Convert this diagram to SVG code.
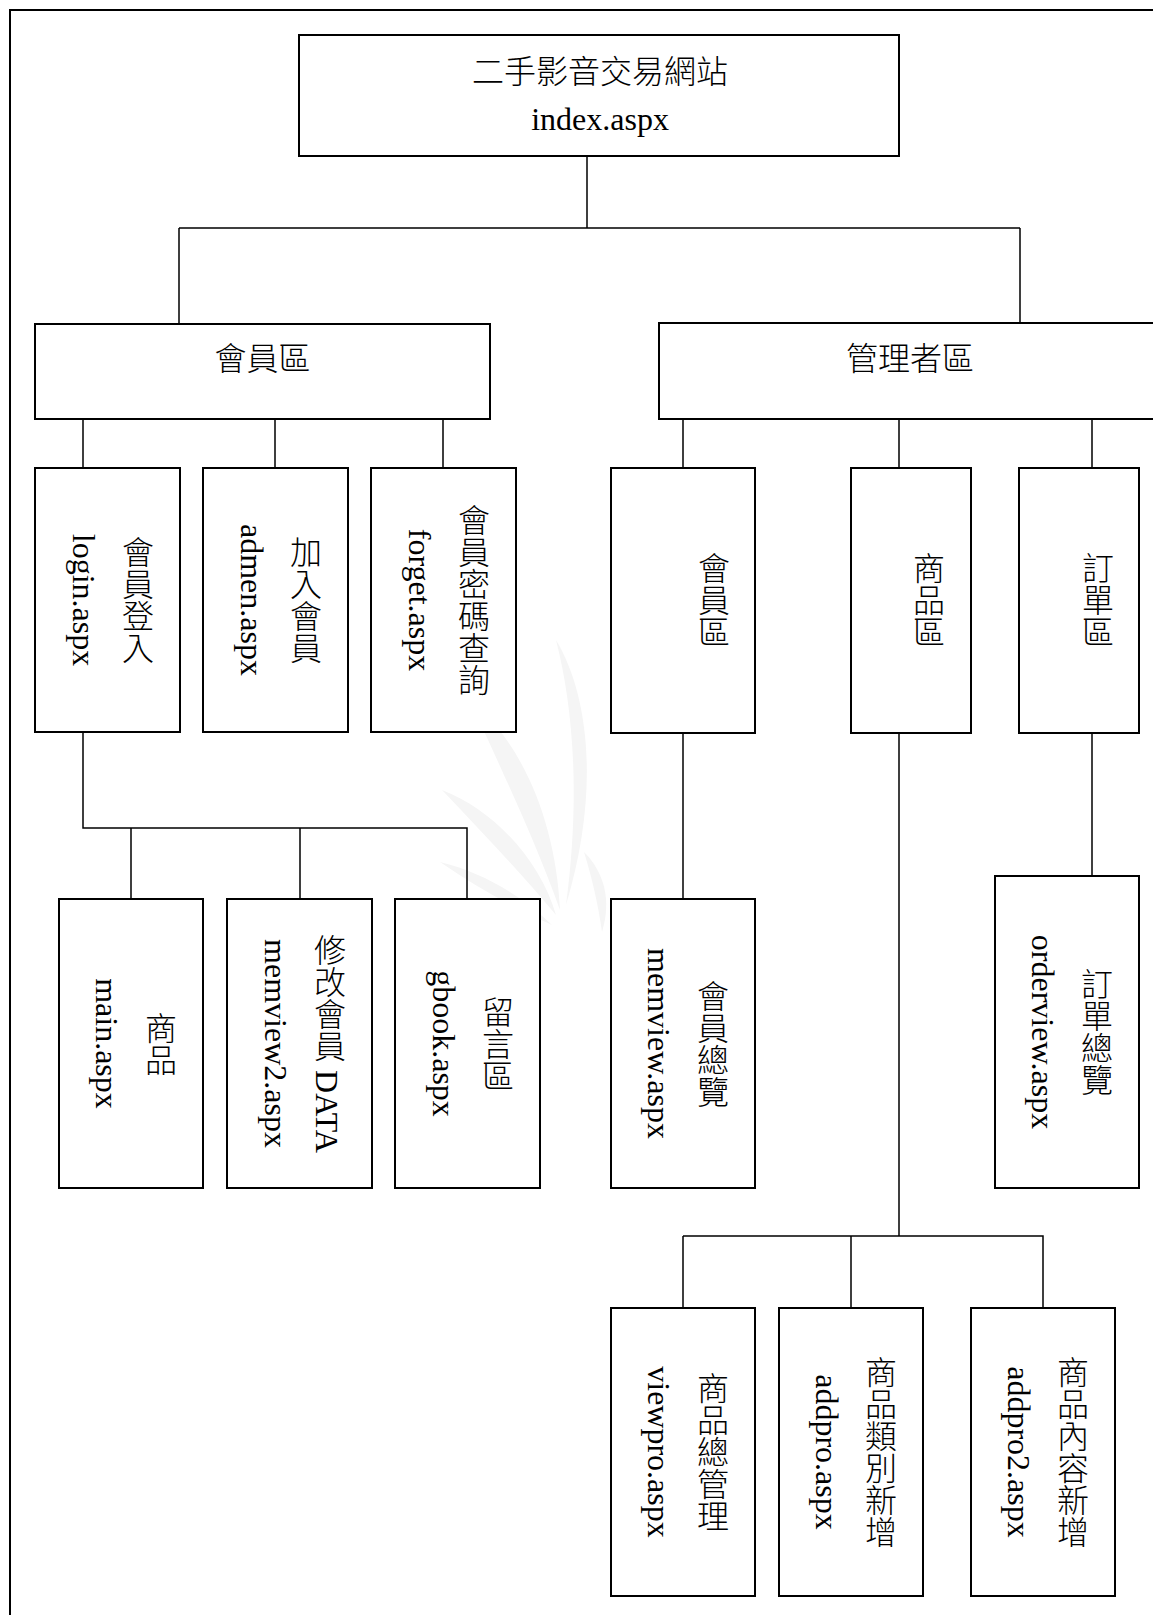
<svg xmlns="http://www.w3.org/2000/svg" width="1153" height="1615" viewBox="0 0 1153 1615">
<style>
.box{fill:#fff;stroke:#000;stroke-width:2}
.frame{fill:none;stroke:#000;stroke-width:2}
.con{fill:none;stroke:#000;stroke-width:1.5}
.wm{fill:#f5f5f5;stroke:none}
text{font-family:"Liberation Serif","Noto Sans CJK TC",serif;font-size:32px;font-weight:300;fill:#000}
.h{text-anchor:middle}
.v{writing-mode:vertical-rl;text-anchor:middle}
.r{text-anchor:middle}
</style>
<rect x="0" y="0" width="1153" height="1615" fill="#fff"/>
<g id="watermark">
<path class="wm" d="M556 640C592 700 598 800 566 905C580 800 574 710 556 640Z"/>
<path class="wm" d="M470 700C522 742 556 822 560 910C532 832 502 772 470 700Z"/>
<path class="wm" d="M442 790C494 810 540 860 556 915C520 872 482 832 442 790Z"/>
<path class="wm" d="M440 862C482 872 522 896 552 925C512 907 476 887 440 862Z"/>
<path class="wm" d="M584 852C604 872 612 900 602 932C598 904 592 878 584 852Z"/>
</g>
<rect class="frame" x="10" y="10" width="1170" height="1630"/>
<g id="connectors">
<path class="con" d="M587 156V228M179 228H1020M179 228V323M1020 228V323"/>
<path class="con" d="M83 419V468M275 419V468M443 419V468"/>
<path class="con" d="M683 419V468M899 419V468M1092 419V468"/>
<path class="con" d="M83 732V828H467V899M131 828V899M300 828V899"/>
<path class="con" d="M683 733V899"/>
<path class="con" d="M1092 733V876"/>
<path class="con" d="M899 733V1236M683 1236H1043V1308M683 1236V1308M851 1236V1308"/>
</g>
<g id="index">
<rect class="box" x="299" y="35" width="600" height="121"/>
<text class="h" x="600" y="83">二手影音交易網站</text>
<text class="h" x="600" y="130">index.aspx</text>
</g>
<g id="member">
<rect class="box" x="35" y="324" width="455" height="95"/>
<text class="h" x="262.5" y="370">會員區</text>
</g>
<g id="admin">
<rect class="box" x="659" y="323" width="510" height="96"/>
<text class="h" x="910" y="370">管理者區</text>
</g>
<g id="login">
<rect class="box" x="35" y="468" width="145" height="264"/>
<text class="v" x="135" y="600">會員登入</text>
<text class="r" x="73" y="600" transform="rotate(90 73 600)">login.aspx</text>
</g>
<g id="admen">
<rect class="box" x="203" y="468" width="145" height="264"/>
<text class="v" x="303" y="600">加入會員</text>
<text class="r" x="241" y="600" transform="rotate(90 241 600)">admen.aspx</text>
</g>
<g id="forget">
<rect class="box" x="371" y="468" width="145" height="264"/>
<text class="v" x="471" y="600">會員密碼查詢</text>
<text class="r" x="409" y="600" transform="rotate(90 409 600)">forget.aspx</text>
</g>
<g id="admin-member">
<rect class="box" x="611" y="468" width="144" height="265"/>
<text class="v" x="711" y="600">會員區</text>
</g>
<g id="admin-product">
<rect class="box" x="851" y="468" width="120" height="265"/>
<text class="v" x="926" y="600">商品區</text>
</g>
<g id="admin-order">
<rect class="box" x="1019" y="468" width="120" height="265"/>
<text class="v" x="1095" y="600">訂單區</text>
</g>
<g id="main">
<rect class="box" x="59" y="899" width="144" height="289"/>
<text class="v" x="158" y="1043.5">商品</text>
<text class="r" x="96" y="1043.5" transform="rotate(90 96 1043.5)">main.aspx</text>
</g>
<g id="memview2">
<rect class="box" x="227" y="899" width="145" height="289"/>
<text class="v" x="327" y="1043.5">修改會員 DATA</text>
<text class="r" x="265" y="1043.5" transform="rotate(90 265 1043.5)">memview2.aspx</text>
</g>
<g id="gbook">
<rect class="box" x="395" y="899" width="145" height="289"/>
<text class="v" x="495" y="1043.5">留言區</text>
<text class="r" x="433" y="1043.5" transform="rotate(90 433 1043.5)">gbook.aspx</text>
</g>
<g id="memview">
<rect class="box" x="611" y="899" width="144" height="289"/>
<text class="v" x="710" y="1043.5">會員總覽</text>
<text class="r" x="648" y="1043.5" transform="rotate(90 648 1043.5)">memview.aspx</text>
</g>
<g id="orderview">
<rect class="box" x="995" y="876" width="144" height="312"/>
<text class="v" x="1094" y="1032">訂單總覽</text>
<text class="r" x="1032" y="1032" transform="rotate(90 1032 1032)">orderview.aspx</text>
</g>
<g id="viewpro">
<rect class="box" x="611" y="1308" width="144" height="288"/>
<text class="v" x="710" y="1452">商品總管理</text>
<text class="r" x="648" y="1452" transform="rotate(90 648 1452)">viewpro.aspx</text>
</g>
<g id="addpro">
<rect class="box" x="779" y="1308" width="144" height="288"/>
<text class="v" x="878" y="1452">商品類別新增</text>
<text class="r" x="816" y="1452" transform="rotate(90 816 1452)">addpro.aspx</text>
</g>
<g id="addpro2">
<rect class="box" x="971" y="1308" width="144" height="288"/>
<text class="v" x="1070" y="1452">商品內容新增</text>
<text class="r" x="1008" y="1452" transform="rotate(90 1008 1452)">addpro2.aspx</text>
</g>
</svg>
